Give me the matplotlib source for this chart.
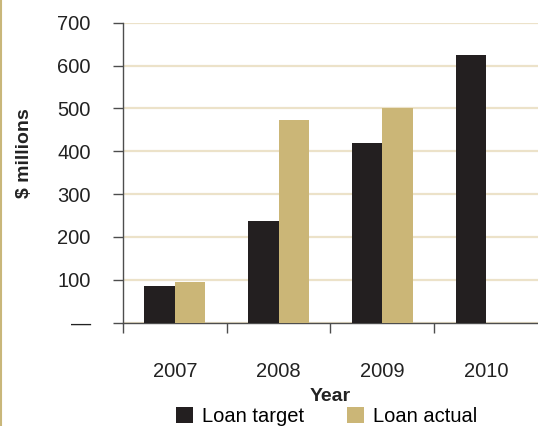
"""Loan target vs. loan actual by year, grouped bar chart."""

import matplotlib

matplotlib.use("Agg")
import matplotlib.pyplot as plt
import numpy as np
from matplotlib.lines import Line2D

plt.rcParams["font.family"] = ["Liberation Sans", "DejaVu Sans"]

years = ["2007", "2008", "2009", "2010"]
loan_target = [85, 237, 419, 625]
loan_actual = [95, 473, 500, np.nan]
y_ticks = [0, 100, 200, 300, 400, 500, 600, 700]
y_tick_labels = ["\u2014", "100", "200", "300", "400", "500", "600", "700"]

DARK = "#231f20"
GOLD = "#cbb677"
GRID = "#ece2c9"
AXIS = "#4d4d4d"

fig = plt.figure(figsize=(5.38, 4.26), dpi=100)
ax = fig.add_axes([0.2286, 0.2425, 0.7714, 0.7042])

x = np.arange(len(years))
width = 0.293
ax.bar(x - width / 2, loan_target, width, color=DARK, label="Loan target", zorder=3)
ax.bar(x + width / 2, loan_actual, width, color=GOLD, label="Loan actual", zorder=3)

ax.set_xlim(-0.5, 3.5)
ax.set_ylim(0, 700)

# y axis: ticks pointing out, dash in place of the zero label
ax.set_yticks(y_ticks)
ax.set_yticklabels(y_tick_labels)
ax.tick_params(axis="y", direction="out", length=7.2, width=1, color=AXIS,
               labelsize=14.5, labelcolor="#222222", pad=16)
ax.yaxis.grid(True, color=GRID, linewidth=1.6, zorder=0)
ax.set_axisbelow(True)

# x axis: labels at centres, tick marks at category boundaries
ax.set_xticks(x)
ax.set_xticklabels(years)
ax.set_xticks(np.arange(-0.5, 3.0, 1.0), minor=True)
ax.tick_params(axis="x", which="major", length=0, labelsize=14.5,
               labelcolor="#222222", pad=28)
ax.tick_params(axis="x", which="minor", direction="out", length=7.2,
               width=1, color=AXIS)

for side in ["top", "right"]:
    ax.spines[side].set_visible(False)
for side in ["left", "bottom"]:
    ax.spines[side].set_color(AXIS)
    ax.spines[side].set_linewidth(1)

ax.set_ylabel("$ millions", fontsize=14, fontweight="bold", color="#222222")
ax.yaxis.set_label_coords(-0.217, 0.566)
ax.set_xlabel("Year", fontsize=14, fontweight="bold", color="#222222", labelpad=5)

fig.legend(loc="center", bbox_to_anchor=(0.607, 0.022), ncol=2, frameon=False,
           fontsize=14.5, handlelength=0.85, handleheight=0.85, handletextpad=0.45,
           columnspacing=2.1, borderaxespad=0)

# thin gold rule on the left edge of the figure
fig.add_artist(Line2D([0.002, 0.002], [0, 1], color="#c9b77a", linewidth=1.5,
                      transform=fig.transFigure))

fig.savefig("out.png", dpi=100)
